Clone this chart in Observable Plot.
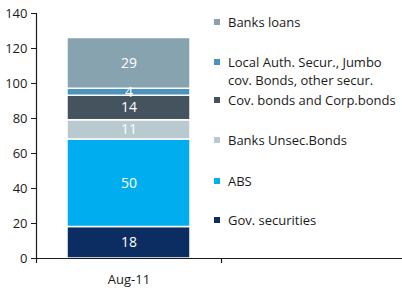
<!DOCTYPE html>
<html>
<head>
<meta charset="utf-8">
<script src="https://cdn.jsdelivr.net/npm/d3@7"></script>
<script src="https://cdn.jsdelivr.net/npm/@observablehq/plot@0.6"></script>
<style>
  html, body { margin: 0; padding: 0; background: #fff; }
  #wrap { position: relative; width: 402px; height: 292px; font-family: "Open Sans", "DejaVu Sans", sans-serif; }
  #legend { position: absolute; left: 0; top: 0; }
  .item { position: absolute; font-size: 13px; color: #1a1a1a; line-height: 18px; white-space: nowrap; }
  .sw { position: absolute; width: 6px; height: 6px; }
</style>
</head>
<body>
<div id="wrap"><div id="legend"></div></div>
<script>
const categories = ["Aug-11", " "];
const series = ["Gov. securities", "ABS", "Banks Unsec.Bonds", "Cov. bonds and Corp.bonds", "Local Auth. Secur., Jumbo cov. Bonds, other secur.", "Banks loans"];
const values = [18, 50, 11, 14, 4, 29];
const colors = ["#0b2d61", "#00aeef", "#b8c9d0", "#45535f", "#4b93ba", "#87a3af"];
const yTicks = [0, 20, 40, 60, 80, 100, 120, 140];

const data = series.map((s, i) => ({cat: categories[0], series: s, value: values[i]}));

const bandHalf = (406 - 36) / 4;
const chart = Plot.plot({
  width: 402,
  height: 292,
  marginLeft: 36,
  marginRight: -4,
  marginTop: 13,
  marginBottom: 34,
  style: {fontFamily: "'Open Sans', 'DejaVu Sans', sans-serif", color: "#1a1a1a", background: "transparent"},
  x: {domain: categories, padding: 0, axis: null},
  y: {domain: [0, 140], axis: null},
  color: {domain: series, range: colors},
  marks: [
    Plot.barY(data, {x: "cat", y: "value", fill: "series", order: null, insetLeft: 31, insetRight: 31, stroke: "white", strokeWidth: 1.5}),
    Plot.text(data, Plot.stackY({x: "cat", y: "value", z: "series", text: "value", order: null, fill: "white", fontSize: 14})),
    Plot.axisY({ticks: yTicks, tickSize: 5, tickPadding: 4, fontSize: 13, label: null, stroke: "#1a1a1a"}),
    Plot.axisX({ticks: [categories[0]], tickSize: 0, tickPadding: 16, fontSize: 13, label: null}),
    Plot.ruleX([categories[0]], {x: d => d, dx: -bandHalf, stroke: "#1a1a1a", strokeWidth: 1.2}),
    Plot.ruleX(categories, {x: d => d, dx: -bandHalf, y1: 0, y2: -5 / 1.75, stroke: "#1a1a1a", strokeWidth: 1.2}),
    Plot.ruleY([0], {stroke: "#1a1a1a", strokeWidth: 1.2})
  ]
});
const wrap = document.getElementById("wrap");
wrap.insertBefore(chart, wrap.firstChild);

const legendItems = [
  {i: 5, top: 13, lines: ["Banks loans"]},
  {i: 4, top: 53, lines: ["Local Auth. Secur., Jumbo", "cov. Bonds, other secur."]},
  {i: 3, top: 91, lines: ["Cov. bonds and Corp.bonds"]},
  {i: 2, top: 131, lines: ["Banks Unsec.Bonds"]},
  {i: 1, top: 172, lines: ["ABS"]},
  {i: 0, top: 211, lines: ["Gov. securities"]}
];
const legend = document.getElementById("legend");
for (const it of legendItems) {
  const sw = document.createElement("div");
  sw.className = "sw";
  sw.style.left = "214px";
  sw.style.top = (it.top + 6) + "px";
  sw.style.background = colors[it.i];
  legend.appendChild(sw);
  const t = document.createElement("div");
  t.className = "item";
  t.style.left = "228px";
  t.style.top = it.top + "px";
  t.innerHTML = it.lines.join("<br>");
  legend.appendChild(t);
}
</script>
</body>
</html>
